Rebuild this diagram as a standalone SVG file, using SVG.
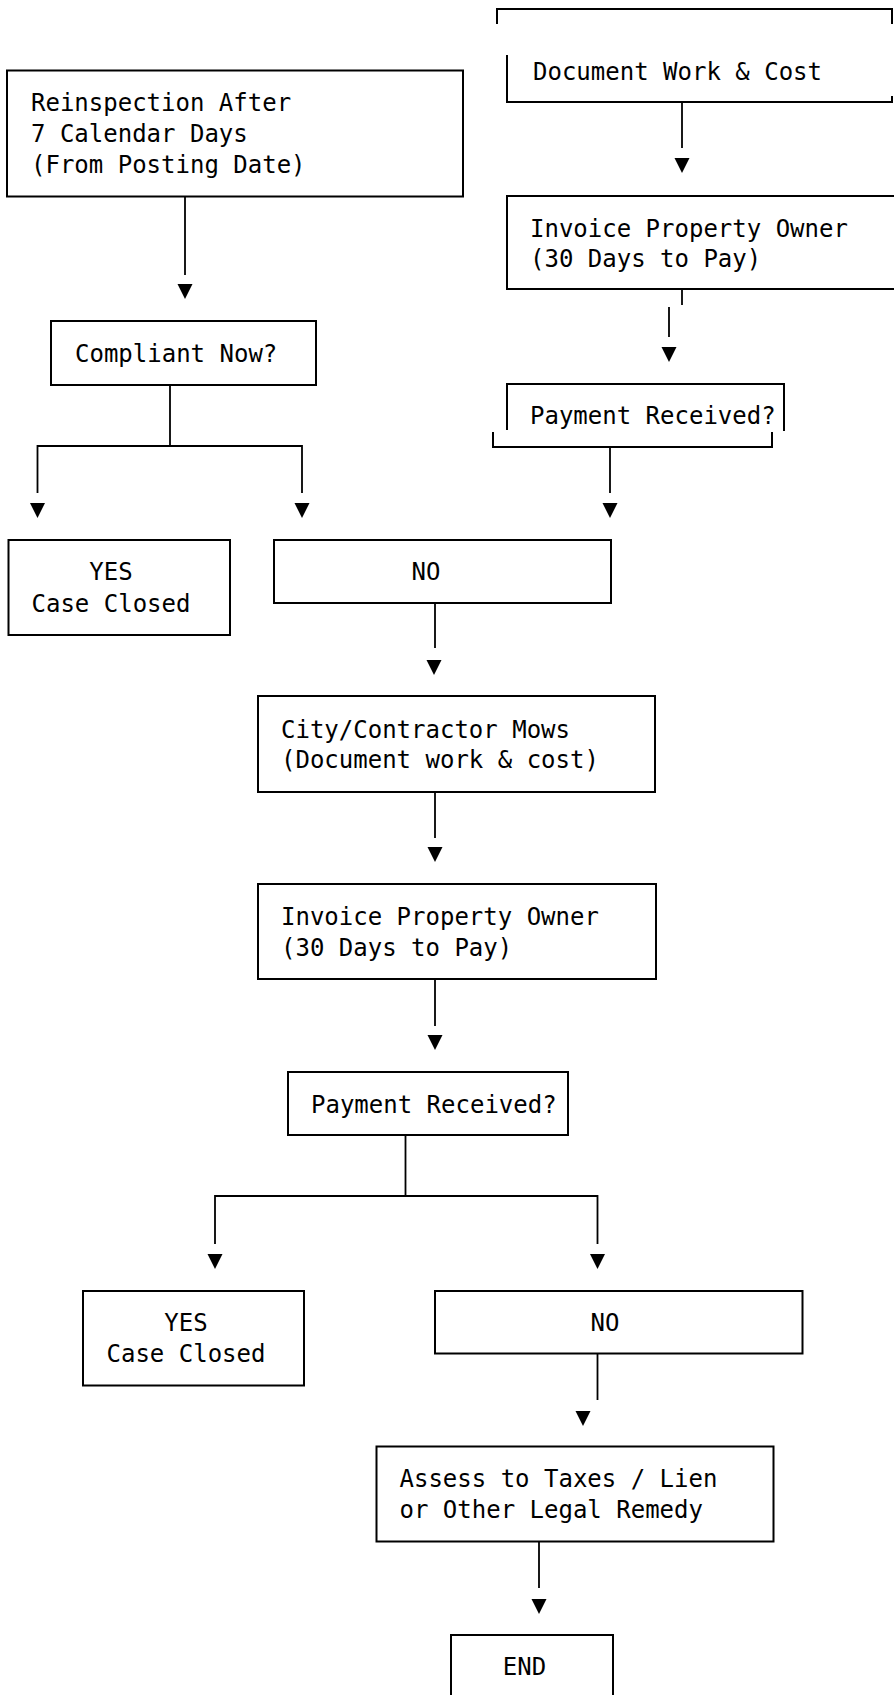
<svg xmlns="http://www.w3.org/2000/svg" xmlns:xlink="http://www.w3.org/1999/xlink" width="894" height="1695" viewBox="0 0 894 1695">
<style>
  .box { fill: none; stroke: #000; stroke-width: 2; }
  .ln { fill: none; stroke: #000; stroke-width: 1.8; }
  text { font-family: "DejaVu Sans Mono", "Liberation Mono", monospace; font-size: 24px; fill: #000; }
  .c { text-anchor: middle; }
</style>
<defs>
  <path id="ah" d="M-7.5,0 L7.5,0 L0,15 Z" fill="#000"/>
</defs>
<rect width="894" height="1695" fill="#fff"/>

<g id="connectors">
  <!-- top right -->
  <line class="ln" x1="682" y1="102" x2="682" y2="148"/>
  <use xlink:href="#ah" x="682" y="158"/>
  <line class="ln" x1="682" y1="290" x2="682" y2="305"/>
  <line class="ln" x1="669" y1="307" x2="669" y2="337"/>
  <use xlink:href="#ah" x="669" y="347"/>
  <line class="ln" x1="610" y1="447" x2="610" y2="493"/>
  <use xlink:href="#ah" x="610" y="503"/>
  <!-- left -->
  <line class="ln" x1="185" y1="197" x2="185" y2="275"/>
  <use xlink:href="#ah" x="185" y="284"/>
  <path class="ln" d="M170,385 V446 M37.5,493 V446 H302 V493"/>
  <use xlink:href="#ah" x="37.5" y="503"/>
  <use xlink:href="#ah" x="302" y="503"/>
  <!-- middle -->
  <line class="ln" x1="435" y1="603" x2="435" y2="648"/>
  <use xlink:href="#ah" x="434" y="660"/>
  <line class="ln" x1="435" y1="792" x2="435" y2="838"/>
  <use xlink:href="#ah" x="435" y="847"/>
  <line class="ln" x1="435" y1="979" x2="435" y2="1026"/>
  <use xlink:href="#ah" x="435" y="1035"/>
  <path class="ln" d="M405.5,1135 V1196 M215,1244 V1196 H597.5 V1244"/>
  <use xlink:href="#ah" x="215" y="1254"/>
  <use xlink:href="#ah" x="597.5" y="1254"/>
  <line class="ln" x1="597.5" y1="1354" x2="597.5" y2="1400"/>
  <use xlink:href="#ah" x="583" y="1411"/>
  <line class="ln" x1="539" y1="1541" x2="539" y2="1588"/>
  <use xlink:href="#ah" x="539" y="1599"/>
</g>

<g id="top-frame">
  <path class="box" d="M497,24 V9 H892 V24"/>
</g>

<g id="doc-work">
  <path class="box" d="M507,55 V102 H892 V96"/>
  <text x="533" y="80">Document Work &amp; Cost</text>
</g>

<g id="invoice-top">
  <path class="box" d="M900,196 H507 V289 H900"/>
  <text x="530" y="237">Invoice Property Owner</text>
  <text x="530" y="267">(30 Days to Pay)</text>
</g>

<g id="payment-top">
  <path class="box" d="M507,430 V384 H784 V431"/>
  <path class="box" d="M493,432 V447 H772 V432"/>
  <text x="530" y="424">Payment Received?</text>
</g>

<g id="reinspection">
  <rect class="box" x="7" y="70.5" width="456" height="126"/>
  <text x="31" y="111">Reinspection After</text>
  <text x="31" y="142">7 Calendar Days</text>
  <text x="31" y="173">(From Posting Date)</text>
</g>

<g id="compliant">
  <rect class="box" x="51" y="321" width="265" height="64"/>
  <text x="75" y="362">Compliant Now?</text>
</g>

<g id="yes-1">
  <rect class="box" x="8.5" y="540" width="221.5" height="95"/>
  <text class="c" x="111" y="580">YES</text>
  <text class="c" x="111" y="612">Case Closed</text>
</g>

<g id="no-1">
  <rect class="box" x="274" y="540" width="337" height="63"/>
  <text class="c" x="426" y="580">NO</text>
</g>

<g id="city-mows">
  <rect class="box" x="258" y="696" width="397" height="96"/>
  <text x="281" y="738">City/Contractor Mows</text>
  <text x="281" y="768">(Document work &amp; cost)</text>
</g>

<g id="invoice">
  <rect class="box" x="258" y="884" width="398" height="95"/>
  <text x="281" y="925">Invoice Property Owner</text>
  <text x="281" y="956">(30 Days to Pay)</text>
</g>

<g id="payment">
  <rect class="box" x="288" y="1072" width="280" height="63"/>
  <text x="311" y="1113">Payment Received?</text>
</g>

<g id="yes-2">
  <rect class="box" x="83" y="1291" width="221" height="94.5"/>
  <text class="c" x="186" y="1331">YES</text>
  <text class="c" x="186" y="1362">Case Closed</text>
</g>

<g id="no-2">
  <rect class="box" x="435" y="1291" width="367.5" height="62.5"/>
  <text class="c" x="605" y="1331">NO</text>
</g>

<g id="assess">
  <rect class="box" x="376.5" y="1446.5" width="397" height="95"/>
  <text x="399.5" y="1487">Assess to Taxes / Lien</text>
  <text x="399.5" y="1518">or Other Legal Remedy</text>
</g>

<g id="end">
  <path class="box" d="M451,1700 V1635 H613 V1700"/>
  <text class="c" x="524.5" y="1675">END</text>
</g>
</svg>
